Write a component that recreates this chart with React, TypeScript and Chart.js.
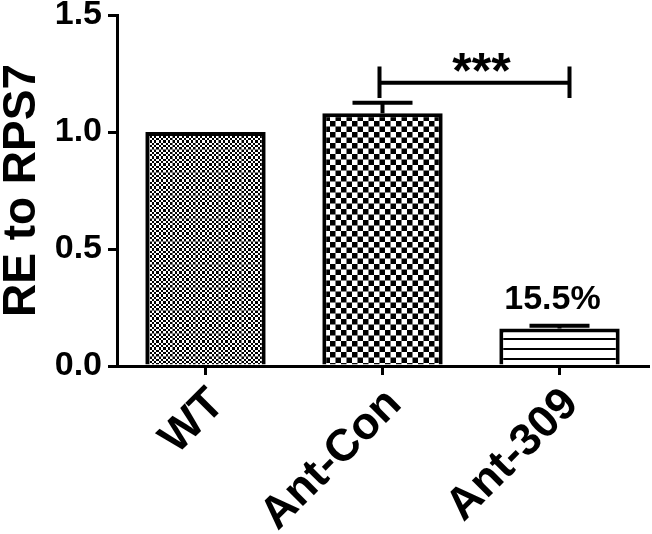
import React, { useEffect, useRef } from "react";
import { Chart, registerables } from "chart.js";

Chart.register(...registerables);

const categories = ["WT", "Ant-Con", "Ant-309"];
const means = [1.0, 1.08, 0.16];
const errors = [0, 0.045, 0.012];
const yTickValues = [0, 0.5, 1.0, 1.5];
const pctLabels = ["", "", "15.5%"];
const sigFrom = 1;
const sigTo = 2;
const sigLevel = 1.21;
const sigLegTop = 1.28;
const sigLegBottom = 1.145;
const sigText = "***";

const FONT = "'Liberation Sans', Arial, sans-serif";

function makeChecker(cell: number, scale: number): CanvasPattern | string {
  const c = document.createElement("canvas");
  c.width = cell * 2;
  c.height = cell * 2;
  const ctx = c.getContext("2d")!;
  ctx.fillStyle = "#fff";
  ctx.fillRect(0, 0, cell * 2, cell * 2);
  ctx.fillStyle = "#000";
  ctx.fillRect(0, 0, cell, cell);
  ctx.fillRect(cell, cell, cell, cell);
  const p = ctx.createPattern(c, "repeat")!;
  try {
    p.setTransform(new DOMMatrix([scale, 0, 0, scale, 0, 0]));
  } catch (e) {}
  return p;
}

function makeLines(period: number, thick: number): CanvasPattern | string {
  const c = document.createElement("canvas");
  c.width = 8;
  c.height = period;
  const ctx = c.getContext("2d")!;
  ctx.fillStyle = "#fff";
  ctx.fillRect(0, 0, 8, period);
  ctx.fillStyle = "#000";
  ctx.fillRect(0, period - thick, 8, thick);
  return ctx.createPattern(c, "repeat")!;
}

const annotPlugin = {
  id: "annot",
  afterDatasetsDraw(chart: any) {
    const ctx = chart.ctx;
    const x = chart.scales.x;
    const y = chart.scales.y;
    ctx.save();
    ctx.strokeStyle = "#000";
    ctx.fillStyle = "#000";
    ctx.lineWidth = 4;
    ctx.lineCap = "butt";
    // error bars (upper only)
    means.forEach((m, i) => {
      const e = errors[i];
      if (!e) return;
      const cx = x.getPixelForValue(i);
      const top = y.getPixelForValue(m + e);
      const base = y.getPixelForValue(m);
      ctx.beginPath();
      ctx.moveTo(cx, base);
      ctx.lineTo(cx, top);
      ctx.moveTo(cx - 30, top);
      ctx.lineTo(cx + 30, top);
      ctx.stroke();
    });
    // percent labels
    ctx.font = `bold 34px ${FONT}`;
    ctx.textAlign = "center";
    ctx.textBaseline = "alphabetic";
    pctLabels.forEach((t, i) => {
      if (!t) return;
      const cx = x.getPixelForValue(i);
      const top = y.getPixelForValue(means[i] + errors[i]);
      ctx.fillText(t, cx - 7, top - 17);
    });
    // significance bracket
    const x1 = x.getPixelForValue(sigFrom) - 3;
    const x2 = x.getPixelForValue(sigTo) + 10;
    const yl = y.getPixelForValue(sigLevel);
    const yt = y.getPixelForValue(sigLegTop);
    const yb = y.getPixelForValue(sigLegBottom);
    ctx.beginPath();
    ctx.moveTo(x1, yt);
    ctx.lineTo(x1, yb);
    ctx.moveTo(x2, yt);
    ctx.lineTo(x2, yb);
    ctx.moveTo(x1, yl);
    ctx.lineTo(x2, yl);
    ctx.stroke();
    ctx.font = `bold 50px ${FONT}`;
    ctx.fillText(sigText, (x1 + x2) / 2 + 7, yl + 5);
    ctx.restore();
  },
};

export default function App() {
  const ref = useRef<HTMLCanvasElement>(null);
  useEffect(() => {
    const canvas = ref.current!;
    const fills = [makeChecker(23, 0.1), makeChecker(11, 0.5), makeLines(10, 2)];
    const chart = new Chart(canvas, {
      type: "bar",
      data: {
        labels: categories,
        datasets: [
          {
            data: means,
            backgroundColor: fills as any,
            borderColor: "#000",
            borderWidth: 4,
            barPercentage: 0.68,
            categoryPercentage: 1,
          },
        ],
      },
      options: {
        animation: false,
        responsive: false,
        maintainAspectRatio: false,
        layout: { padding: { top: 15, right: 4, left: 0, bottom: 0 } },
        plugins: { legend: { display: false }, tooltip: { enabled: false } },
        scales: {
          x: {
            offset: true,
            grid: {
              display: true,
              drawOnChartArea: false,
              drawTicks: true,
              tickLength: 9,
              tickColor: "#000",
              lineWidth: 3,
              offset: false,
            },
            border: { display: true, color: "#000", width: 3 },
            ticks: {
              color: "#000",
              font: { family: FONT, size: 45, weight: "bold" },
              minRotation: 45,
              maxRotation: 45,
              padding: 3,
              labelOffset: 12,
            },
            afterFit(scale: any) {
              scale.height = 168;
            },
          },
          y: {
            min: 0,
            max: 1.5,
            afterBuildTicks(scale: any) {
              scale.ticks = yTickValues.map((v) => ({ value: v }));
            },
            grid: {
              display: true,
              drawOnChartArea: false,
              drawTicks: true,
              tickLength: 9,
              tickColor: "#000",
              lineWidth: 3,
            },
            border: { display: true, color: "#000", width: 3 },
            ticks: {
              color: "#000",
              font: { family: FONT, size: 34, weight: "bold", lineHeight: 0.5 },
              padding: 6,
              callback: (v: any) => Number(v).toFixed(1),
            },
            title: {
              display: true,
              text: "RE to RPS7",
              color: "#000",
              font: { family: FONT, size: 46, weight: "bold", lineHeight: 0.95 },
              padding: { top: 0, bottom: 0 },
            },
            afterFit(scale: any) {
              scale.width = 117;
            },
          },
        },
      },
      plugins: [annotPlugin],
    });
    return () => chart.destroy();
  }, []);
  return (
    <div style={{ position: "absolute", left: 0, top: 0, width: 652, height: 534, background: "#fff" }}>
      <canvas ref={ref} width={652} height={534} style={{ display: "block" }} />
    </div>
  );
}
